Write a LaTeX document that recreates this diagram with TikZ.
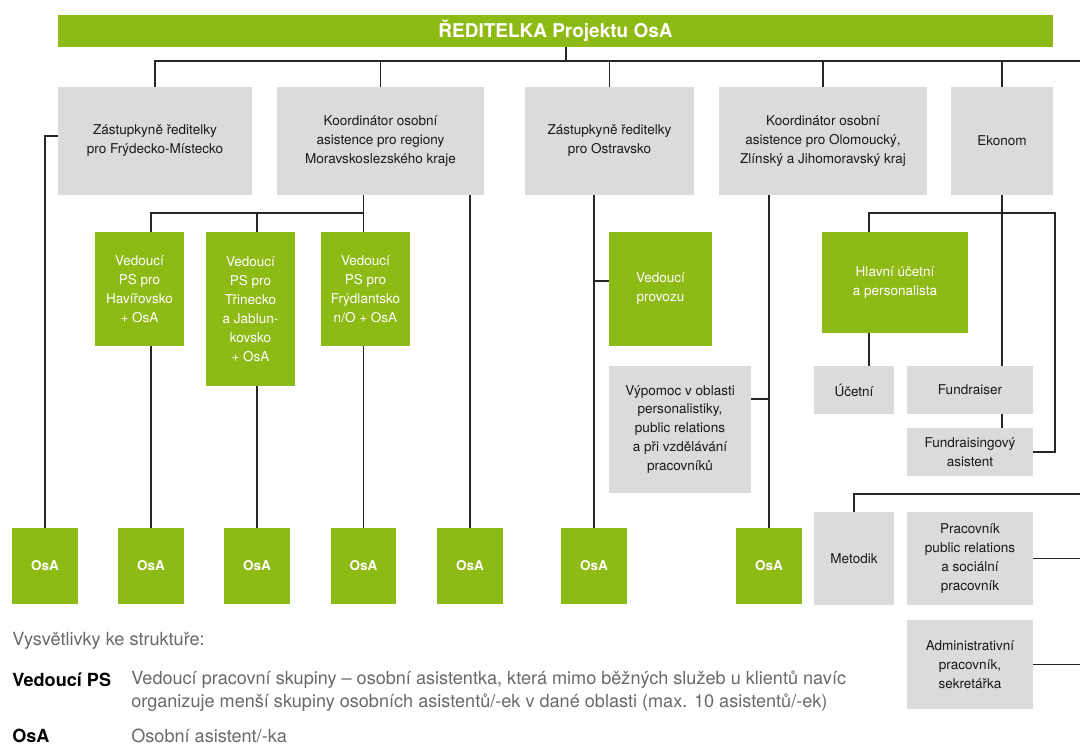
\documentclass[tikz,border=0pt]{standalone}
\usepackage{fontspec}
\setmainfont{TeX Gyre Heros}
\usetikzlibrary{backgrounds}
\definecolor{osagreen}{RGB}{142,186,22}
\definecolor{boxgray}{RGB}{218,219,220}
\definecolor{leggray}{RGB}{105,105,105}
\tikzset{
	conn/.style={line width=1.1pt, black!85},
	graybox/.style={fill=boxgray, text=black!90, align=center, inner sep=0pt,
		font=\fontsize{7.7}{10.8}\selectfont},
	greenbox/.style={fill=osagreen, text=white, align=center, inner sep=0pt,
		font=\fontsize{7.7}{10.8}\selectfont},
	osabox/.style={greenbox, minimum width=1.32cm, minimum height=1.52cm,
		font=\fontsize{7.7}{10.8}\selectfont\bfseries},
	legkey/.style={anchor=west, inner sep=0pt, font=\fontsize{10.3}{14}\selectfont\bfseries},
	legtext/.style={anchor=west, inner sep=0pt, align=left, text=leggray,
		font=\fontsize{10.3}{13.2}\selectfont}
}
\begin{document}
\begin{tikzpicture}[x=0.02cm, y=-0.02cm]
	\useasboundingbox (0,0) rectangle (1080,752);
	% Ředitelka
	\node[fill=osagreen, text=white, minimum width=19.9cm, minimum height=0.64cm,
	inner sep=0pt, font=\fontsize{10.8}{12}\selectfont\bfseries] (dir) at (555.5,31)
	{ŘEDITELKA Projektu OsA};
	\coordinate (busx) at (566,61);
	\coordinate (busr) at (1080,61);

	% první řada
	\node[graybox, minimum width=3.88cm, minimum height=2.16cm] (zfm) at (155,141)
	{Zástupkyně ředitelky\\pro Frýdecko-Místecko};
	\node[graybox, minimum width=4.14cm, minimum height=2.16cm] (kms) at (380.5,141)
	{Koordinátor osobní\\asistence pro regiony\\Moravskoslezského kraje};
	\node[graybox, minimum width=3.38cm, minimum height=2.16cm] (zos) at (609.5,141)
	{Zástupkyně ředitelky\\pro Ostravsko};
	\node[graybox, minimum width=4.16cm, minimum height=2.16cm] (kol) at (823,141)
	{Koordinátor osobní\\asistence pro Olomoucký,\\Zlínský a Jihomoravský kraj};
	\node[graybox, minimum width=2.04cm, minimum height=2.16cm] (ekon) at (1002,141)
	{Ekonom};

	% vedoucí PS
	\coordinate (kbus) at (0,213);
	\node[greenbox, minimum width=1.78cm, minimum height=2.28cm] (vhav) at (139.5,289)
	{Vedoucí\\PS pro\\Havířovsko\\+ OsA};
	\node[greenbox, minimum width=1.78cm, minimum height=3.08cm] (vtri) at (250.5,309)
	{Vedoucí\\PS pro\\Třinecko\\a Jablun-\\kovsko\\+ OsA};
	\node[greenbox, minimum width=1.78cm, minimum height=2.28cm] (vfry) at (365.5,289)
	{Vedoucí\\PS pro\\Frýdlantsko\\n/O + OsA};
	\node[greenbox, minimum width=2.06cm, minimum height=2.28cm] (vp) at (660.5,289)
	{Vedoucí\\provozu};
	\node[graybox, minimum width=2.84cm, minimum height=2.54cm] (vyp) at (680,429.5)
	{Výpomoc v oblasti\\personalistiky,\\public relations\\a při vzdělávání\\pracovníků};

	% ekonomický úsek
	\coordinate (ex) at (869,213);
	\coordinate (eright) at (1055,213);
	\node[greenbox, minimum width=2.92cm, minimum height=2.02cm] (hl) at (895,282.5)
	{Hlavní účetní\\a personalista};
	\node[graybox, minimum width=1.6cm, minimum height=0.96cm] (ucet) at (854,390)
	{Účetní};
	\node[graybox, minimum width=2.52cm, minimum height=0.96cm] (fund) at (970,390)
	{Fundraiser};
	\node[graybox, minimum width=2.52cm, minimum height=0.96cm] (fa) at (970,452)
	{Fundraisingový\\asistent};

	% spodní skupina
	\coordinate (mbus) at (1080,494);
	\node[graybox, minimum width=1.6cm, minimum height=1.86cm] (met) at (854,558.5)
	{Metodik};
	\node[graybox, minimum width=2.52cm, minimum height=1.86cm] (pr) at (970,558.5)
	{Pracovník\\public relations\\a sociální\\pracovník};
	\node[graybox, minimum width=2.52cm, minimum height=1.78cm] (adm) at (970,664.5)
	{Administrativní\\pracovník,\\sekretářka};

	% OsA
	\node[osabox] (osa1) at (45,566) {OsA};
	\node[osabox] (osa2) at (151,566) {OsA};
	\node[osabox] (osa3) at (257,566) {OsA};
	\node[osabox] (osa4) at (363.5,566) {OsA};
	\node[osabox] (osa5) at (470,566) {OsA};
	\node[osabox] (osa6) at (594,566) {OsA};
	\node[osabox] (osa7) at (769,566) {OsA};

	% vysvětlivky
	\node[legtext] (legt) at (12,641) {Vysvětlivky ke struktuře:};
	\node[legkey] (kvps) at (12,680) {Vedoucí PS};
	\node[legtext] (tvps) at (131,691)
	{Vedoucí pracovní skupiny – osobní asistentka, která mimo běžných služeb u klientů navíc\\
	organizuje menší skupiny osobních asistentů/-ek v dané oblasti (max. 10 asistentů/-ek)};
	\node[legkey] (kosa) at (12,736) {OsA};
	\node[legtext] (tosa) at (131,736) {Osobní asistent/-ka};

	% spojnice
	\begin{scope}[on background layer]
		\draw[conn] (dir.south -| busx) -- (busx);
		\draw[conn] (zfm.north) |- (busr);
		\foreach \n in {kms,zos,kol,ekon}
			\draw[conn] (\n.north) -- (\n.north |- busr);
		\draw[conn] ([yshift=0.1cm]zfm.west) -| (osa1.north);
		\draw[conn] (osa4.north |- kms.south) -- (osa4.north |- kbus) -- (osa2.north |- kbus) -- (osa2.north);
		\draw[conn] (osa3.north |- kbus) -- (osa3.north);
		\draw[conn] (osa4.north |- kbus) -- (osa4.north);
		\draw[conn] (osa5.north |- kms.south) -- (osa5.north);
		\draw[conn] (osa6.north |- zos.south) -- (osa6.north);
		\draw[conn] ([yshift=0.16cm]vp.west) -- ([yshift=0.16cm]vp.west -| osa6.north);
		\draw[conn] (osa7.north |- kol.south) -- (osa7.north);
		\draw[conn] ([yshift=0.61cm]vyp.east) -- ([yshift=0.61cm]vyp.east -| osa7.north);
		\draw[conn] (ekon.south) -- (ekon.south |- fund.north);
		\draw[conn] (ekon.south |- fund.south) -- (ekon.south |- fa.north);
		\draw[conn] (ucet.north -| ex) -- (ex) -- (eright) |- (fa.east);
		\draw[conn] (met.north) |- (mbus);
		\draw[conn] (pr.east) -- (pr.east -| mbus);
		\draw[conn] (adm.east) -- (adm.east -| mbus);
	\end{scope}
\end{tikzpicture}
\end{document}
